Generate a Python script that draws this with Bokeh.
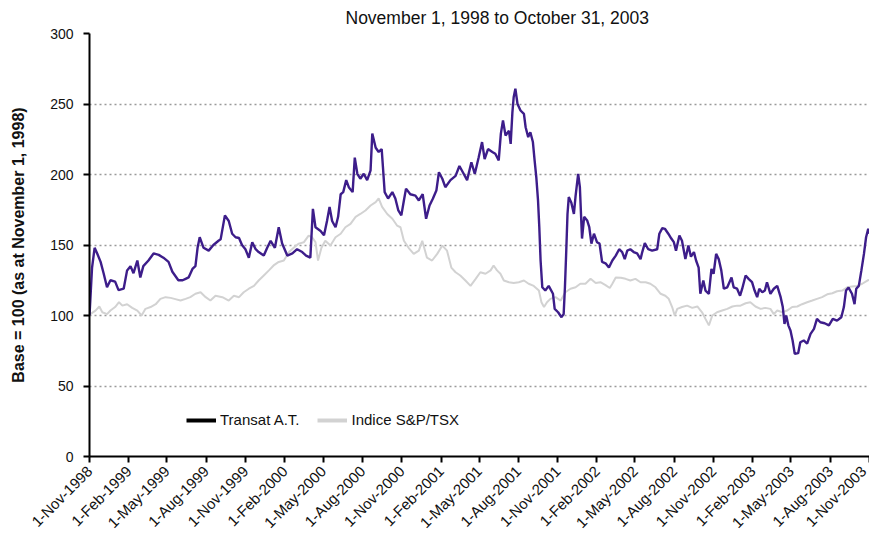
import math
import pandas as pd
from bokeh.plotting import figure
from bokeh.models import (Range1d, FixedTicker, DatetimeTickFormatter, Legend, LegendItem,
                          ColumnDataSource)
from bokeh.embed import file_html
from bokeh.resources import INLINE

# ---------------- data ----------------
title_text = "November 1, 1998 to October 31, 2003"
y_label = "Base = 100 (as at November 1, 1998)"
series_names = ["Transat A.T.", "Indice S&P/TSX"]
y_ticks = [0, 50, 100, 150, 200, 250, 300]
x_tick_dates = ["1998-11-01", "1999-02-01", "1999-05-01", "1999-08-01", "1999-11-01",
                "2000-02-01", "2000-05-01", "2000-08-01", "2000-11-01", "2001-02-01",
                "2001-05-01", "2001-08-01", "2001-11-01", "2002-02-01", "2002-05-01",
                "2002-08-01", "2002-11-01", "2003-02-01", "2003-05-01", "2003-08-01",
                "2003-11-01"]

transat_dates = [
    "1998-11-01", "1998-11-07", "1998-11-13", "1998-11-19", "1998-11-27", "1998-12-04", "1998-12-12", "1998-12-20", "1998-12-31",
    "1999-01-08", "1999-01-20", "1999-01-28", "1999-02-05", "1999-02-12", "1999-02-21", "1999-02-28", "1999-03-07", "1999-03-19", "1999-03-31",
    "1999-04-12", "1999-04-23", "1999-05-05", "1999-05-14", "1999-05-21", "1999-05-28", "1999-06-07", "1999-06-14", "1999-06-21", "1999-06-30",
    "1999-07-07", "1999-07-12", "1999-07-17", "1999-07-26", "1999-08-07", "1999-08-18", "1999-08-30", "1999-09-04", "1999-09-14", "1999-09-23",
    "1999-10-01", "1999-10-09", "1999-10-17", "1999-10-24", "1999-11-01", "1999-11-09", "1999-11-17", "1999-11-25", "1999-12-02", "1999-12-14",
    "1999-12-22", "1999-12-30", "2000-01-09", "2000-01-18", "2000-01-26", "2000-02-07", "2000-02-19", "2000-03-01", "2000-03-13", "2000-03-22",
    "2000-04-01", "2000-04-07", "2000-04-13", "2000-04-25", "2000-05-03", "2000-05-10", "2000-05-16", "2000-05-22", "2000-05-30", "2000-06-05",
    "2000-06-11", "2000-06-17", "2000-06-24", "2000-06-30", "2000-07-09", "2000-07-14", "2000-07-20", "2000-07-27", "2000-08-04", "2000-08-12",
    "2000-08-20", "2000-08-24", "2000-09-01", "2000-09-08", "2000-09-15", "2000-09-18", "2000-09-22", "2000-09-30", "2000-10-10", "2000-10-17",
    "2000-10-24", "2000-10-31", "2000-11-06", "2000-11-11", "2000-11-21", "2000-12-03", "2000-12-11", "2000-12-20", "2000-12-28",
    "2001-01-05", "2001-01-13", "2001-01-21", "2001-01-27", "2001-02-04", "2001-02-11", "2001-02-23", "2001-03-07", "2001-03-16", "2001-03-24",
    "2001-04-03", "2001-04-13", "2001-04-21", "2001-04-30", "2001-05-08", "2001-05-14", "2001-05-22", "2001-06-01", "2001-06-08", "2001-06-16",
    "2001-06-21", "2001-06-26", "2001-07-02", "2001-07-10", "2001-07-14", "2001-07-18", "2001-07-21", "2001-07-25", "2001-07-30", "2001-08-06",
    "2001-08-14", "2001-08-18", "2001-08-24", "2001-08-29", "2001-09-04", "2001-09-08", "2001-09-12", "2001-09-16", "2001-09-19", "2001-09-22",
    "2001-09-26", "2001-10-03", "2001-10-11", "2001-10-21", "2001-10-25", "2001-11-02", "2001-11-10", "2001-11-15", "2001-11-18", "2001-11-21",
    "2001-11-24", "2001-11-27", "2001-12-03", "2001-12-09", "2001-12-13", "2001-12-19", "2001-12-23", "2001-12-28",
    "2002-01-02", "2002-01-09", "2002-01-14", "2002-01-19", "2002-01-25", "2002-02-01", "2002-02-07", "2002-02-13", "2002-02-21", "2002-03-01",
    "2002-03-09", "2002-03-17", "2002-03-25", "2002-04-01", "2002-04-07", "2002-04-13", "2002-04-20", "2002-04-28", "2002-05-06", "2002-05-14",
    "2002-05-18", "2002-05-24", "2002-06-01", "2002-06-10", "2002-06-22", "2002-06-27", "2002-07-04", "2002-07-10", "2002-07-18", "2002-07-25",
    "2002-07-31", "2002-08-05", "2002-08-13", "2002-08-19", "2002-08-27", "2002-09-03", "2002-09-09", "2002-09-16", "2002-09-21", "2002-09-27",
    "2002-10-01", "2002-10-08", "2002-10-13", "2002-10-21", "2002-10-27", "2002-11-01", "2002-11-07", "2002-11-13", "2002-11-19", "2002-11-25",
    "2002-12-03", "2002-12-13", "2002-12-18", "2002-12-26",
    "2003-01-02", "2003-01-07", "2003-01-15", "2003-01-22", "2003-01-30", "2003-02-05", "2003-02-11", "2003-02-16", "2003-02-23", "2003-03-01",
    "2003-03-06", "2003-03-14", "2003-03-22", "2003-03-30", "2003-04-07", "2003-04-12", "2003-04-16", "2003-04-20", "2003-04-25", "2003-04-30",
    "2003-05-05", "2003-05-10", "2003-05-18", "2003-05-23", "2003-05-31", "2003-06-08", "2003-06-16", "2003-06-24", "2003-07-01", "2003-07-09",
    "2003-07-19", "2003-07-29", "2003-08-07", "2003-08-17", "2003-08-27", "2003-09-02", "2003-09-07", "2003-09-13", "2003-09-21", "2003-09-27",
    "2003-10-01", "2003-10-07", "2003-10-13", "2003-10-19", "2003-10-24", "2003-10-29", "2003-10-31"]

transat_values = [
    100, 134, 148, 144, 138, 130, 120, 125, 124,
    118, 119, 132, 135, 130, 139, 127, 135, 139, 144,
    143, 141, 138, 131, 128, 125, 125, 126, 127, 133,
    135, 148, 155.5, 148, 146, 150, 153, 154, 171, 167,
    158, 155.5, 155, 150, 147, 141, 152, 147, 145, 142.5,
    148, 153, 148, 162.6, 151, 142.5, 144, 147, 145, 142.5,
    141, 175.6, 162.6, 160, 157, 167, 177, 167, 162.6, 170,
    186, 187.5, 196, 191, 187.5, 212, 200.5, 197, 200.5, 196,
    203, 229, 219, 216, 218, 205, 187.5, 183, 187.5, 183,
    174.5, 171, 181.6, 190, 186, 185, 181.6, 186, 168.6,
    178, 183, 188.6, 201.6, 197, 191, 196, 199, 206, 201.6,
    196, 208.7, 200.5, 212, 223, 211, 218, 216, 214.7, 210,
    229, 238.3, 227.6, 231, 221.7, 244, 254.8, 260.8, 250, 245.4,
    243, 233.5, 226.5, 230, 223, 210, 198, 181.6, 162.6, 139,
    120, 117.7, 121, 115.4, 104.7, 102.3, 98.8, 101, 120, 145,
    172, 184, 180, 172, 185, 200.5, 191, 154.6,
    170, 167.4, 162.6, 151, 158, 152, 151, 138, 137, 134,
    139, 142.5, 147, 145, 140, 146, 147, 145, 144, 140,
    145, 151.3, 147, 146, 147, 158, 162, 161.5, 158, 154.6,
    152, 146, 156.7, 153, 140, 149.6, 141.7, 145, 139, 134,
    115.4, 124.8, 117.7, 115.4, 133, 129.6, 143.7, 140, 132, 119,
    120, 127, 120, 119,
    114, 119, 128.4, 126, 123.6, 117.7, 113, 119, 116.5, 117.7,
    123.6, 115.4, 119, 121, 113, 106, 94, 100, 93, 89.4,
    82.3, 72.8, 73.3, 81, 82.3, 80, 87, 90.5, 97.6, 95.2,
    94.5, 93, 97.6, 96.4, 98.8, 106, 117.7, 119.8, 115.4, 108,
    119, 121, 132, 143.7, 155.5, 161.5, 158]

tsx_dates = [
    "1998-11-01", "1998-11-03", "1998-11-15", "1998-11-24", "1998-12-01", "1998-12-12", "1998-12-20", "1998-12-31",
    "1999-01-09", "1999-01-17", "1999-01-28", "1999-02-09", "1999-02-21", "1999-03-03", "1999-03-12", "1999-03-24", "1999-04-05", "1999-04-16",
    "1999-04-28", "1999-05-10", "1999-05-21", "1999-06-02", "1999-06-14", "1999-06-25", "1999-07-07", "1999-07-19", "1999-07-31", "1999-08-11",
    "1999-08-23", "1999-09-08", "1999-09-23", "1999-10-05", "1999-10-17", "1999-10-28", "1999-11-09", "1999-11-21", "1999-12-02", "1999-12-14",
    "1999-12-26", "2000-01-06", "2000-01-18", "2000-01-30", "2000-02-11", "2000-02-22", "2000-03-05", "2000-03-17", "2000-03-28", "2000-04-05",
    "2000-04-13", "2000-04-19", "2000-04-27", "2000-05-06", "2000-05-18", "2000-05-30", "2000-06-11", "2000-06-22", "2000-07-04", "2000-07-16",
    "2000-07-27", "2000-08-08", "2000-08-20", "2000-09-01", "2000-09-08", "2000-09-16", "2000-09-28", "2000-10-10", "2000-10-21", "2000-10-29",
    "2000-11-06", "2000-11-17", "2000-11-29", "2000-12-11", "2000-12-19", "2000-12-30", "2001-01-11", "2001-01-23", "2001-02-04", "2001-02-15",
    "2001-02-25", "2001-03-07", "2001-03-18", "2001-03-30", "2001-04-11", "2001-04-23", "2001-05-04", "2001-05-16", "2001-05-28", "2001-06-04",
    "2001-06-12", "2001-06-20", "2001-06-28", "2001-07-10", "2001-07-21", "2001-08-02", "2001-08-14", "2001-08-25", "2001-09-06", "2001-09-18",
    "2001-09-24", "2001-09-30", "2001-10-07", "2001-10-15", "2001-10-27", "2001-11-08", "2001-11-19", "2001-12-01", "2001-12-13", "2001-12-24",
    "2002-01-05", "2002-01-17", "2002-01-29", "2002-02-09", "2002-02-21", "2002-03-03", "2002-03-09", "2002-03-17", "2002-03-29", "2002-04-09",
    "2002-04-20", "2002-05-02", "2002-05-14", "2002-05-26", "2002-06-06", "2002-06-18", "2002-06-30", "2002-07-11", "2002-07-19", "2002-07-27",
    "2002-08-02", "2002-08-08", "2002-08-19", "2002-08-31", "2002-09-12", "2002-09-24", "2002-10-05", "2002-10-13", "2002-10-21", "2002-10-29",
    "2002-11-09", "2002-11-21", "2002-12-03", "2002-12-15", "2002-12-26", "2003-01-03", "2003-01-15", "2003-01-26", "2003-02-07", "2003-02-19",
    "2003-03-02", "2003-03-14", "2003-03-22", "2003-03-30", "2003-04-11", "2003-04-22", "2003-05-04", "2003-05-16", "2003-05-27", "2003-06-08",
    "2003-06-20", "2003-07-01", "2003-07-13", "2003-07-25", "2003-08-06", "2003-08-17", "2003-08-29", "2003-09-10", "2003-09-21", "2003-10-03",
    "2003-10-15", "2003-10-27", "2003-10-31"]

tsx_values = [
    100, 101, 103.5, 106.4, 102.3, 101, 103.5, 106,
    109.4, 107, 108, 105.4, 103.5, 100, 104.7, 106, 108, 111.8,
    113, 112.5, 111.6, 110.6, 111.8, 113, 115.4, 116.5, 113, 110.6,
    114, 113, 110.6, 114, 113, 116.5, 119, 121, 124.8, 128.4,
    132, 135.5, 138, 139, 145, 148, 151, 152, 156.7, 155.5,
    152, 139, 148, 153, 149.6, 155.5, 158, 162.6, 165, 170,
    172, 174.5, 178, 180.4, 183, 177, 172, 168.6, 163.8, 162.6,
    153, 148, 143.7, 146, 153, 141, 139, 143.7, 149.6, 146,
    134, 130.7, 128.4, 124.8, 121, 126, 130.7, 129.6, 132, 135.5,
    132, 129.6, 124.8, 123.6, 123, 123.6, 124.8, 122.5, 121, 117.7,
    109.4, 106, 109.4, 111.8, 113, 110.6, 116.5, 119, 120, 122.5,
    122.5, 126, 123, 123.6, 121.5, 119.5, 122.5, 127, 126.7, 126,
    124.8, 126, 123.6, 123.6, 122.5, 120, 115.4, 114, 111.8, 106,
    100, 104.7, 106, 107, 105.4, 106.4, 102.3, 97.6, 93, 100,
    102.3, 103.5, 104.7, 106.4, 107, 107, 108.7, 109.4, 106.4, 104.7,
    105.4, 104.7, 101, 103.5, 102.3, 103.5, 106, 106.4, 108, 109.4,
    110.6, 111.8, 113, 115, 115.8, 117.2, 117.7, 120, 120.5, 121,
    122.5, 124.8, 125.3]

# ---------------- figure ----------------
FONT = "Liberation Sans"
x_start = pd.Timestamp("1998-11-01")
x_end = pd.Timestamp("2003-11-01")

p = figure(x_axis_type="datetime", output_backend="svg", toolbar_location=None,
           frame_width=780, frame_height=423,
           x_range=Range1d(x_start, x_end), y_range=Range1d(0, 300),
           min_border_left=89, min_border_right=0, min_border_top=33, min_border_bottom=78,
           background_fill_color="white", border_fill_color="white")
p.outline_line_color = None

p.title.text = title_text
p.title.align = "left"
p.title.offset = 256
p.title.text_font = FONT
p.title.text_font_size = "17.5px"
p.title.text_font_style = "normal"
p.title.text_color = "#111111"
p.title.standoff = 11

tsx_src = ColumnDataSource(dict(x=pd.to_datetime(tsx_dates), y=tsx_values))
tr_src = ColumnDataSource(dict(x=pd.to_datetime(transat_dates), y=transat_values))

p.line("x", "y", source=tsx_src, line_color="#d2d2d2", line_width=2)
p.line("x", "y", source=tr_src, line_color="#3d1d8a", line_width=2.4)

# legend samples (as in the original, the Transat sample is black); drawn off-range
r_leg1 = p.line([x_start, x_end], [-100, -100], line_color="black", line_width=4)
r_leg2 = p.line([x_start, x_end], [-100, -100], line_color="#d2d2d2", line_width=4)
legend = Legend(items=[LegendItem(label=series_names[0], renderers=[r_leg1]),
                       LegendItem(label=series_names[1], renderers=[r_leg2])],
                orientation="horizontal", location=(97, 28),
                glyph_width=30, glyph_height=10, label_standoff=4, spacing=18,
                padding=0, margin=0, border_line_color=None, background_fill_alpha=0,
                label_text_font=FONT, label_text_font_size="15px", label_text_color="#111111")
p.add_layout(legend)

# axes
p.yaxis.ticker = FixedTicker(ticks=y_ticks)
p.yaxis.axis_label = y_label
p.yaxis.axis_label_text_font = FONT
p.yaxis.axis_label_text_font_size = "16px"
p.yaxis.axis_label_text_font_style = "bold"
p.yaxis.axis_label_text_color = "#111111"
p.yaxis.axis_label_standoff = 20
p.yaxis.major_label_text_font = FONT
p.yaxis.major_label_text_font_size = "14px"
p.yaxis.major_label_text_color = "#111111"
p.yaxis.major_label_standoff = 10

x_ticks_ms = [pd.Timestamp(d).value // 10**6 for d in x_tick_dates]
p.xaxis.ticker = FixedTicker(ticks=x_ticks_ms)
fmt = "1-%b-%Y"
p.xaxis.formatter = DatetimeTickFormatter(days=fmt, months=fmt, years=fmt, hours=fmt,
                                          minutes=fmt, seconds=fmt, milliseconds=fmt,
                                          microseconds=fmt, hourmin=fmt, minsec=fmt,
                                          context=None)
p.xaxis.major_label_orientation = math.pi / 4
p.xaxis.major_label_text_font = FONT
p.xaxis.major_label_text_font_size = "15px"
p.xaxis.major_label_text_color = "#111111"
p.xaxis.major_label_standoff = 6

for ax in (p.xaxis, p.yaxis):
    ax.axis_line_color = "black"
    ax.axis_line_width = 2
    ax.major_tick_line_color = "black"
    ax.major_tick_line_width = 2
    ax.major_tick_in = 0
    ax.major_tick_out = 6
    ax.minor_tick_line_color = None

p.xgrid.grid_line_color = None
p.ygrid.grid_line_color = "#9a9a9a"
p.ygrid.grid_line_width = 1.5
p.ygrid.grid_line_dash = "2 3"

open("out.html", "w").write(file_html(p, INLINE))
